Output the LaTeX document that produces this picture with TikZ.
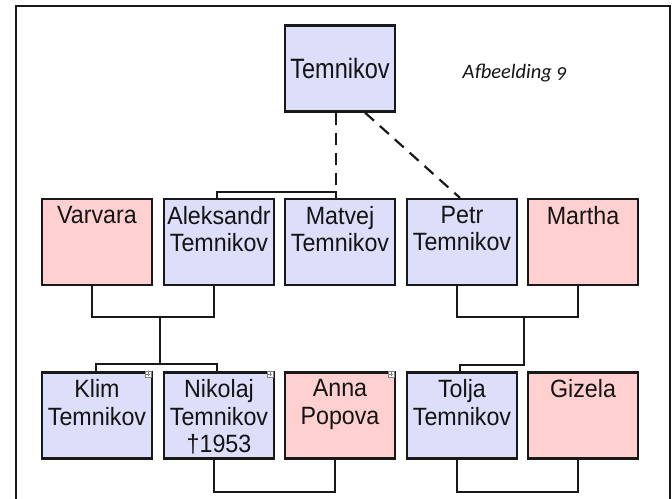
\documentclass[tikz,border=0pt]{standalone}
\usepackage{fontspec}
\setmainfont{Liberation Sans}
\newfontfamily\boxfont[FakeStretch=0.93]{Liberation Sans}
\newfontfamily\topfont[FakeStretch=0.84]{Liberation Sans}
\newfontfamily\capfont[Numbers=OldStyle]{Carlito}
\definecolor{mblue}{RGB}{221,222,250}
\definecolor{fpink}{RGB}{255,208,208}
\definecolor{edgec}{RGB}{25,25,25}
\definecolor{txtc}{RGB}{20,20,20}
\begin{document}
\begin{tikzpicture}[x=1pt,y=-1pt,
  pbox/.style={draw=edgec, line width=2.2pt, minimum width=110pt, minimum height=86pt, inner sep=0pt},
  male/.style={pbox, fill=mblue},
  female/.style={pbox, fill=fpink},
  ptext/.style={anchor=north, inner sep=0pt, align=center, text=txtc,
    font=\boxfont\fontsize{25}{27.5}\selectfont, yshift=-8pt},
  conn/.style={draw=edgec, line width=2.2pt},
  dashline/.style={draw=edgec, line width=2.2pt, dash pattern=on 12pt off 8pt},
  frameline/.style={draw=edgec, line width=2.6pt},
  icon/.style={draw=gray, fill=white, line width=0.5pt}]
\useasboundingbox (0,0) rectangle (672,498);
\draw[frameline] (16,499) -- (16,6) -- (670,6) -- (670,499);

% top
\node[male, font=\topfont\fontsize{28}{30}\selectfont, text=txtc] (top) at (340,68.5) {Temnikov};
\node[anchor=base west, inner sep=0pt, text=txtc, font=\capfont\itshape\fontsize{20.5}{22}\selectfont] (caption) at (462.5,78.3) {Afbeelding 9};

% row 1
\node[female] (varvara) at (97,242) {};
\node[male] (aleks) at (219,242) {};
\node[male] (matvej) at (340,242) {};
\node[male] (petr) at (462,242) {};
\node[female] (martha) at (583,242) {};
\node[ptext] (varvaraT) at (varvara.north) {Varvara};
\node[ptext] (aleksT) at (aleks.north) {Aleksandr\\Temnikov};
\node[ptext] (matvejT) at (matvej.north) {Matvej\\Temnikov};
\node[ptext] (petrT) at (petr.north) {Petr\\Temnikov};
\node[ptext] (marthaT) at (martha.north) {Martha};

% row 2
\node[male] (klim) at (97,415.5) {};
\node[male] (nikolaj) at (219,415.5) {};
\node[female] (anna) at (340,415.5) {};
\node[male] (tolja) at (462,415.5) {};
\node[female] (gizela) at (583,415.5) {};
\node[ptext] (klimT) at (klim.north) {Klim\\Temnikov};
\node[ptext] (nikolajT) at (nikolaj.north) {Nikolaj\\Temnikov\\†1953};
\node[ptext] (annaT) at (anna.north) {Anna\\Popova};
\node[ptext] (toljaT) at (tolja.north) {Tolja\\Temnikov};
\node[ptext] (gizelaT) at (gizela.north) {Gizela};

% icons
\foreach \n in {klim,nikolaj,anna}{
  \draw[icon] ([shift={(-8,0)}]\n.north east) rectangle ++(6,6);
  \draw[gray, line width=0.5pt] ([shift={(-7,3)}]\n.north east) -- ++(4,0);
  \draw[gray, line width=0.5pt] ([shift={(-5,1)}]\n.north east) -- ++(0,4);
}

% coordinates
\coordinate (bM) at (336,192);
\coordinate (bA) at (217,192);
\coordinate (dS) at (365,113);
\coordinate (dE) at (460,197);
\coordinate (m1) at (160,317);
\coordinate (k1) at (160,364);
\coordinate (m2) at (524,317);
\coordinate (k2) at (524,365);

% parents to sons
\draw[conn] (aleks.north -| bA) |- (bM) -- (matvej.north -| bM);
\draw[dashline] (top.south -| bM) -- (bM);
\draw[dashline] (top.south -| dS) -- (petr.north -| dE);

% marriages row 1
\draw[conn] ([xshift=-5pt]varvara.south) -- ++(0,31) -| ([xshift=-5pt]aleks.south);
\draw[conn] ([xshift=-5pt]petr.south) -- ++(0,31) -| ([xshift=-5pt]martha.south);

% children
\draw[conn] (m1) -- (k1);
\draw[conn] ([xshift=-1pt]klim.north) |- (k1) -| ([xshift=-2pt]nikolaj.north);
\draw[conn] (m2) -- (k2) -| ([xshift=-2pt]tolja.north);

% marriages row 2
\draw[conn] ([xshift=-5pt]nikolaj.south) -- ++(0,32) -| ([xshift=-5pt]anna.south);
\draw[conn] ([xshift=-5pt]tolja.south) -- ++(0,32) -| ([xshift=-5pt]gizela.south);
\end{tikzpicture}
\end{document}
